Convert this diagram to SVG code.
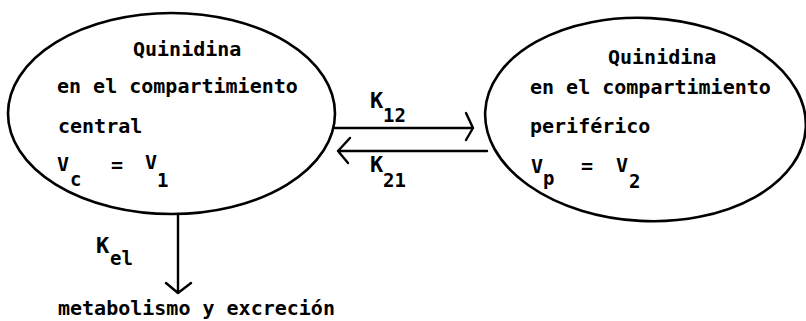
<svg xmlns="http://www.w3.org/2000/svg" width="806" height="321" viewBox="0 0 806 321">
<defs>
<style>
.t{font-family:"DejaVu Sans Mono","Liberation Mono",monospace;font-weight:bold;font-size:20px;fill:#000}
.s{font-size:19px}
.k{font-size:22px}
.e{fill:none;stroke:#000;stroke-width:2.6}
.c{fill:none;stroke:#000;stroke-width:2.4;stroke-linecap:round;stroke-linejoin:round}
</style>
</defs>
<rect width="806" height="321" fill="#fff"/>
<g id="central">
<ellipse class="e" cx="171.5" cy="113.5" rx="163.5" ry="100.5"/>
<text class="t" x="133" y="56">Quinidina</text>
<text class="t" x="57" y="93">en el compartimiento</text>
<text class="t" x="58" y="133">central</text>
<text class="t" x="57" y="171">V</text>
<text class="t s" x="70" y="186">c</text>
<text class="t" x="111" y="172">=</text>
<text class="t" x="145" y="169">V</text>
<text class="t s" x="157" y="187">1</text>
</g>
<g id="periferico">
<ellipse class="e" cx="645.5" cy="119.5" rx="160.5" ry="101.5" transform="rotate(3 645.5 119.5)"/>
<text class="t" x="608" y="64">Quinidina</text>
<text class="t" x="530" y="94">en el compartimiento</text>
<text class="t" x="530" y="133">periférico</text>
<text class="t" x="531" y="173">V</text>
<text class="t s" x="543" y="185">p</text>
<text class="t" x="581" y="173">=</text>
<text class="t" x="616" y="172">V</text>
<text class="t s" x="629" y="188">2</text>
</g>
<g id="excrecion">
<text class="t" x="58" y="315">metabolismo y excreción</text>
</g>
<g id="connectors">
<path class="c" d="M335 128 H473 M466 113 L473 128 L466 140"/>
<text class="t k" x="370" y="108">K</text>
<text class="t s" x="383" y="122">12</text>
<path class="c" d="M487 151 H338 M350 138 L338 151 L348 163"/>
<text class="t k" x="370" y="172">K</text>
<text class="t s" x="383" y="187">21</text>
<path class="c" d="M178 214 V293 M166 283 L178 293 L191 283"/>
<text class="t k" x="96" y="253">K</text>
<text class="t s" x="110" y="265">el</text>
</g>
</svg>
